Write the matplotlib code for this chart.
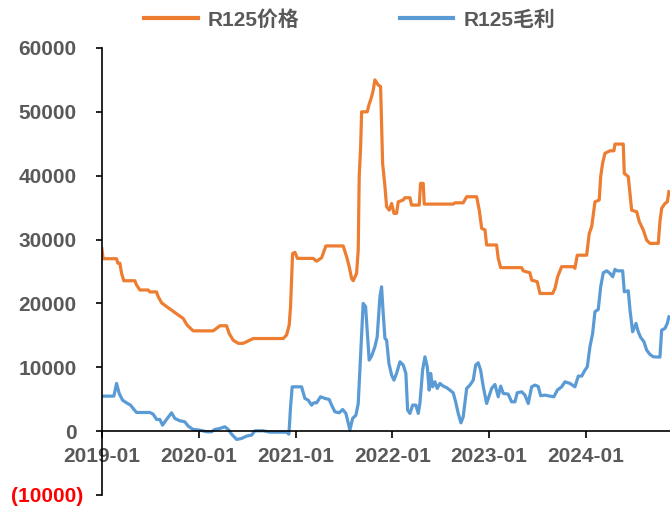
import numpy as np
import pandas as pd
import matplotlib
matplotlib.use('Agg')
import matplotlib.pyplot as plt
import matplotlib.dates as mdates
import matplotlib.transforms as mtransforms

fontsize = 15
plt.rcParams['font.family'] = ['Liberation Sans', 'Noto Sans CJK SC']
plt.rcParams['font.weight'] = 'bold'

# time axis in decimal years, values in yuan/ton
price_t = [2019.000, 2019.013, 2019.152, 2019.165, 2019.186, 2019.204, 2019.227, 2019.341,
           2019.358, 2019.393, 2019.478, 2019.496, 2019.565, 2019.582, 2019.617, 2019.668,
           2019.720, 2019.788, 2019.840, 2019.881, 2019.943, 2020.150, 2020.185, 2020.219,
           2020.288, 2020.315, 2020.356, 2020.408, 2020.460, 2020.495, 2020.563, 2020.873,
           2020.908, 2020.935, 2020.949, 2020.970, 2020.994, 2021.020, 2021.183, 2021.218,
           2021.270, 2021.314, 2021.493, 2021.528, 2021.555, 2021.580, 2021.596, 2021.631,
           2021.648, 2021.658, 2021.673, 2021.683, 2021.741, 2021.758, 2021.786, 2021.803,
           2021.820, 2021.854, 2021.879, 2021.900, 2021.924, 2021.941, 2021.968, 2021.993,
           2022.017, 2022.044, 2022.061, 2022.113, 2022.130, 2022.182, 2022.199, 2022.278,
           2022.292, 2022.319, 2022.330, 2022.629, 2022.647, 2022.732, 2022.768, 2022.871,
           2022.898, 2022.923, 2022.957, 2022.974, 2023.077, 2023.094, 2023.119, 2023.336,
           2023.352, 2023.421, 2023.439, 2023.497, 2023.525, 2023.656, 2023.680, 2023.708,
           2023.749, 2023.869, 2023.886, 2023.910, 2024.007, 2024.034, 2024.059, 2024.093,
           2024.137, 2024.152, 2024.172, 2024.196, 2024.248, 2024.289, 2024.300, 2024.385,
           2024.396, 2024.437, 2024.472, 2024.524, 2024.551, 2024.592, 2024.627, 2024.661,
           2024.747, 2024.764, 2024.782, 2024.816, 2024.840, 2024.857]
price = [28600, 27000, 27000, 26300, 26300, 24700, 23550, 23550,
         22900, 22100, 22100, 21800, 21800, 21050, 20100, 19500,
         18950, 18200, 17650, 16600, 15700, 15700, 16100, 16500,
         16500, 15300, 14250, 13750, 13750, 14000, 14500, 14500,
         15050, 16600, 19500, 27800, 28000, 27050, 27050, 26600,
         27150, 29000, 29000, 27300, 25750, 23900, 23550, 24700,
         28350, 39850, 44550, 50000, 50000, 51050, 52350, 53400,
         55000, 54200, 53950, 41900, 38300, 35150, 34600, 35650,
         34100, 34100, 35900, 36200, 36550, 36550, 35400, 35400,
         38800, 38800, 35550, 35550, 35750, 35750, 36700, 36700,
         34600, 31750, 31500, 29150, 29150, 27050, 25600, 25600,
         25100, 24800, 23650, 23400, 21550, 21550, 22350, 24200,
         25750, 25750, 25500, 27550, 27550, 30950, 32000, 35900,
         36200, 39850, 41950, 43500, 43900, 43900, 44950, 44950,
         40350, 39850, 34600, 34350, 32800, 31500, 29900, 29400,
         29400, 32800, 34900, 35650, 35900, 37500]

margin_t = [2019.000, 2019.124, 2019.152, 2019.179, 2019.214, 2019.255, 2019.296, 2019.323,
            2019.358, 2019.496, 2019.530, 2019.565, 2019.599, 2019.627, 2019.668, 2019.720,
            2019.754, 2019.806, 2019.857, 2019.892, 2019.943, 2020.012, 2020.082, 2020.133,
            2020.167, 2020.219, 2020.271, 2020.305, 2020.340, 2020.392, 2020.443, 2020.495,
            2020.546, 2020.581, 2020.666, 2020.736, 2020.908, 2020.932, 2020.949, 2020.966,
            2021.063, 2021.097, 2021.131, 2021.166, 2021.190, 2021.218, 2021.259, 2021.304,
            2021.348, 2021.373, 2021.407, 2021.451, 2021.487, 2021.521, 2021.562, 2021.590,
            2021.624, 2021.648, 2021.673, 2021.699, 2021.724, 2021.745, 2021.761, 2021.786,
            2021.820, 2021.844, 2021.872, 2021.889, 2021.906, 2021.924, 2021.941, 2021.965,
            2021.993, 2022.017, 2022.044, 2022.079, 2022.113, 2022.140, 2022.158, 2022.182,
            2022.210, 2022.244, 2022.268, 2022.285, 2022.313, 2022.337, 2022.361, 2022.381,
            2022.396, 2022.416, 2022.440, 2022.464, 2022.492, 2022.526, 2022.561, 2022.595,
            2022.629, 2022.654, 2022.681, 2022.709, 2022.732, 2022.768, 2022.802, 2022.836,
            2022.861, 2022.887, 2022.912, 2022.939, 2022.974, 2023.026, 2023.060, 2023.094,
            2023.119, 2023.146, 2023.197, 2023.232, 2023.267, 2023.290, 2023.336, 2023.370,
            2023.404, 2023.439, 2023.473, 2023.507, 2023.532, 2023.576, 2023.628, 2023.669,
            2023.704, 2023.749, 2023.783, 2023.835, 2023.886, 2023.921, 2023.956, 2023.990,
            2024.014, 2024.041, 2024.069, 2024.093, 2024.127, 2024.152, 2024.179, 2024.214,
            2024.248, 2024.276, 2024.300, 2024.323, 2024.379, 2024.396, 2024.437, 2024.455,
            2024.482, 2024.517, 2024.540, 2024.565, 2024.599, 2024.627, 2024.661, 2024.695,
            2024.764, 2024.782, 2024.816, 2024.840, 2024.857]
margin = [5480, 5480, 7470, 5900, 4850, 4430, 4070, 3550,
          2920, 2920, 2660, 1830, 1830, 940, 1830, 2870,
          1990, 1620, 1460, 780, 260, 160, -100, -100,
          260, 420, 680, 260, -470, -1300, -1150, -780,
          -630, 50, 50, -160, -160, -470, 3800, 6940,
          6940, 5120, 4860, 4070, 4440, 4440, 5380, 5120,
          4960, 4070, 3030, 2870, 3390, 2770, 160, 1990,
          2500, 4330, 12170, 20000, 19500, 14780, 11120, 11750,
          13200, 14780, 21040, 22600, 18440, 14520, 14250, 10600,
          8770, 7990, 9040, 10860, 10340, 9040, 3290, 2770,
          4070, 4070, 2770, 4330, 9560, 11640, 10070, 6420,
          9040, 6940, 7720, 6690, 7470, 7050, 6800, 6420,
          6000, 4590, 2770, 1300, 2240, 6690, 7210, 7990,
          10340, 10700, 9560, 7000, 4330, 6690, 7310, 5380,
          7050, 5900, 5800, 4590, 4590, 6000, 6160, 5640,
          4330, 6940, 7210, 7000, 5540, 5640, 5480, 5380,
          6420, 6940, 7720, 7470, 6940, 8620, 8620, 9560,
          10070, 13200, 15300, 18700, 19060, 22600, 24800, 25100,
          24700, 24170, 25330, 25100, 25100, 21820, 21980, 18960,
          15560, 16870, 15560, 14680, 13990, 12690, 12010, 11640,
          11590, 15820, 16090, 16870, 17900]

year_ticks = ['2019-01', '2020-01', '2021-01', '2022-01', '2023-01', '2024-01']
y_ticks = [-10000, 0, 10000, 20000, 30000, 40000, 50000, 60000]

start = pd.Timestamp('2019-01-01')


def to_date(years):
    return [start + pd.Timedelta(days=(y - 2019) * 365.25) for y in years]


gray = '#595959'
fig = plt.figure(figsize=(6.7, 5.08), dpi=100)
ax = fig.add_axes([0.152, 0.0256, 0.848, 0.88])

price_line, = ax.plot(to_date(price_t), price, color='#ED7D31', lw=2.3,
                      solid_joinstyle='round', label='R125价格')
margin_line, = ax.plot(to_date(margin_t), margin, color='#5B9BD5', lw=2.3,
                       solid_joinstyle='round', label='R125毛利')

ax.set_ylim(-10000, 60000)
ax.set_xlim(start, to_date([2024.868])[0])

ax.spines['top'].set_visible(False)
ax.spines['right'].set_visible(False)
ax.spines['bottom'].set_position(('data', 0))
for s in ['left', 'bottom']:
    ax.spines[s].set_linewidth(1.2)
    ax.spines[s].set_color('black')

ax.set_xticks(pd.to_datetime(year_ticks))
ax.set_xticklabels(year_ticks)
ax.set_yticks(y_ticks)
ax.set_yticklabels(['(10000)' if v < 0 else str(v) for v in y_ticks])

ax.tick_params(axis='x', direction='out', length=5, width=1.2, pad=6.5,
               labelsize=fontsize, labelcolor=gray)
ax.tick_params(axis='y', direction='out', length=4.5, width=1.2, pad=13.5,
               labelsize=fontsize, labelcolor=gray)

for lab in ax.get_yticklabels():
    if lab.get_text().startswith('('):
        lab.set_color('#FF0000')
        lab.set_transform(lab.get_transform() +
                          mtransforms.ScaledTranslation(6 / 100, 0, fig.dpi_scale_trans))

leg = fig.legend(handles=[price_line, margin_line], loc='center',
                 bbox_to_anchor=(0.522, 0.961), ncol=2, frameon=False,
                 fontsize=fontsize, handlelength=2.55, handletextpad=0.5,
                 columnspacing=4.8)
for t in leg.get_texts():
    t.set_color(gray)
for h in leg.legend_handles:
    h.set_linewidth(3)

fig.savefig('out.png', dpi=100)
